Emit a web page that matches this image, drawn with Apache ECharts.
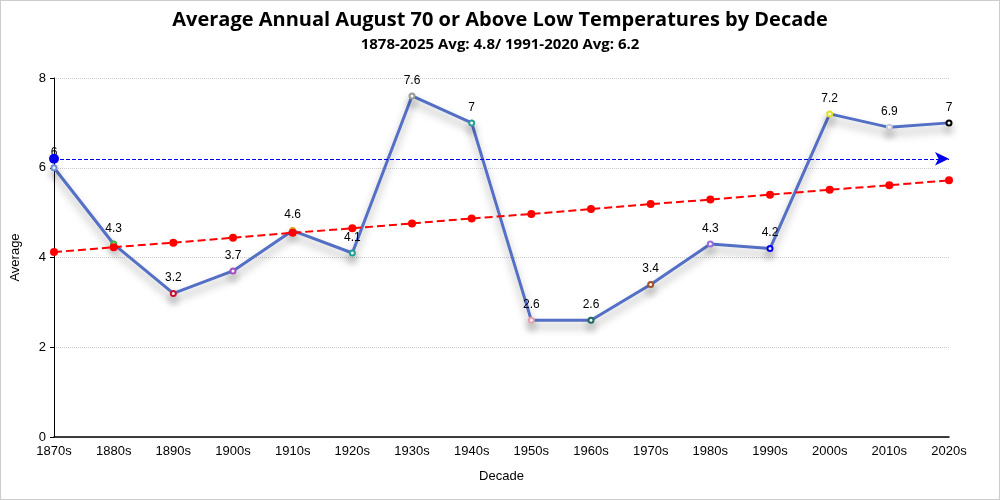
<!DOCTYPE html>
<html>
<head>
<meta charset="utf-8">
<script src="https://cdn.jsdelivr.net/npm/echarts@6/dist/echarts.min.js"></script>
<style>
html,body{margin:0;padding:0;background:#fff;}
#c{width:1000px;height:500px;box-sizing:border-box;border:1px solid #ccc;}
</style>
</head>
<body>
<div id="c"></div>
<script>
var decades = ['1870s','1880s','1890s','1900s','1910s','1920s','1930s','1940s','1950s','1960s','1970s','1980s','1990s','2000s','2010s','2020s'];
var averages = [6, 4.3, 3.2, 3.7, 4.6, 4.1, 7.6, 7, 2.6, 2.6, 3.4, 4.3, 4.2, 7.2, 6.9, 7];
var pointColors = ['#6a8fd8','#3cb043','#c8102e','#a050c0','#e0a020','#20a090','#999999','#2a9d9d','#e8a0b0','#206a60','#a0522d','#9370db','#0000ee','#e0e020','#c8c8d8','#000000'];
var trend = [4.12, 4.23, 4.33, 4.44, 4.55, 4.65, 4.76, 4.87, 4.97, 5.08, 5.19, 5.29, 5.40, 5.51, 5.61, 5.72];
var normalAvg = 6.2;
var yTicks = [0, 2, 4, 6, 8];

var chart = echarts.init(document.getElementById('c'));
chart.setOption({
  animation: false,
  title: {
    text: 'Average Annual August 70 or Above Low Temperatures by Decade',
    subtext: '1878-2025 Avg: 4.8/ 1991-2020 Avg: 6.2',
    left: 'center',
    top: 4,
    itemGap: 7,
    textStyle: {fontSize: 20, fontWeight: 'bold', color: '#000', fontFamily: 'Open Sans'},
    subtextStyle: {fontSize: 15, fontWeight: 'bold', color: '#000', fontFamily: 'Open Sans'}
  },
  grid: {left: 53, right: 50, top: 77, bottom: 62},
  xAxis: {
    type: 'category',
    data: decades,
    boundaryGap: false,
    name: 'Decade',
    nameLocation: 'middle',
    nameGap: 33,
    nameTextStyle: {color: '#000', fontSize: 13},
    axisLine: {lineStyle: {color: '#000', width: 1.5}},
    axisTick: {show: false},
    axisLabel: {color: '#000', fontSize: 13, interval: 0},
    splitLine: {show: false}
  },
  yAxis: {
    type: 'value',
    min: yTicks[0],
    max: yTicks[yTicks.length - 1],
    interval: 2,
    name: 'Average',
    nameLocation: 'middle',
    nameGap: 32,
    nameTextStyle: {color: '#000', fontSize: 13},
    axisLine: {show: true, lineStyle: {color: '#000'}},
    axisTick: {show: true, length: 4, lineStyle: {color: '#000'}},
    axisLabel: {color: '#000', fontSize: 13},
    splitLine: {show: true, lineStyle: {color: '#ccc', type: 'dotted'}}
  },
  series: [
    {
      type: 'line',
      data: averages.map(function (v, i) {
        return {value: v, itemStyle: {color: pointColors[i]}};
      }),
      symbol: 'emptyCircle',
      symbolSize: 5,
      z: 2,
      lineStyle: {color: '#5470c6', width: 3, shadowColor: 'rgba(0,0,0,0.35)', shadowBlur: 8, shadowOffsetY: 6},
      itemStyle: {borderWidth: 2, shadowColor: 'rgba(0,0,0,0.35)', shadowBlur: 8, shadowOffsetY: 6},
      label: {show: true, position: 'top', color: '#000', fontSize: 12, distance: 6},
      markLine: {
        silent: true,
        symbol: ['circle', 'arrow'],
        symbolSize: [10, 14],
        label: {show: false},
        lineStyle: {color: '#0000ee', type: 'dashed', width: 1},
        data: [{yAxis: normalAvg}]
      }
    },
    {
      type: 'line',
      data: trend,
      symbol: 'circle',
      symbolSize: 8,
      z: 3,
      lineStyle: {color: '#ff0000', width: 2, type: 'dashed'},
      itemStyle: {color: '#ff0000'},
      label: {show: false}
    }
  ]
});
</script>
</body>
</html>
